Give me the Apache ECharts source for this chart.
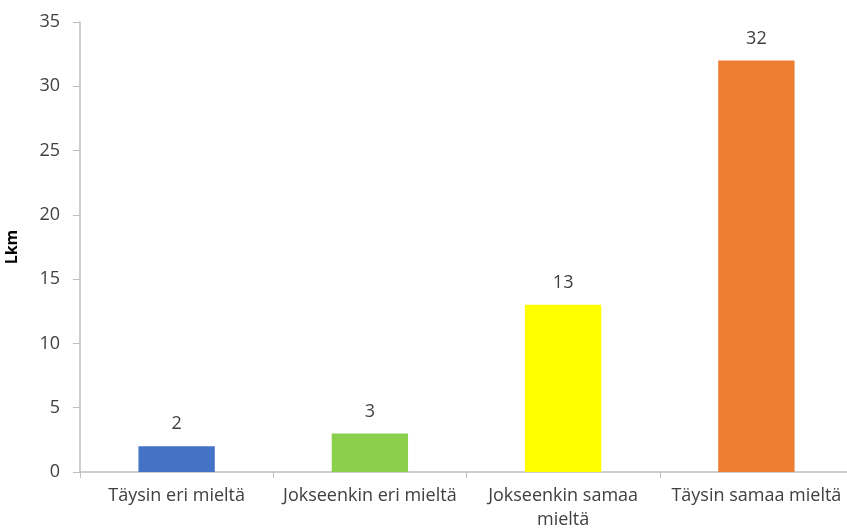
<!DOCTYPE html>
<html>
<head>
<meta charset="utf-8">
<script src="https://cdn.jsdelivr.net/npm/echarts@6/dist/echarts.min.js"></script>
<style>
  html, body { margin: 0; padding: 0; background: #fff; overflow: hidden; }
  /* canvas is a little wider than the window so the category axis runs past the right edge */
  #chart { width: 860px; height: 532px; }
</style>
</head>
<body>
<div id="chart"></div>
<script>
// Survey answers: number of respondents per agreement level
const categories = ['Täysin eri mieltä', 'Jokseenkin eri mieltä', 'Jokseenkin samaa\nmieltä', 'Täysin samaa mieltä'];
const counts = [2, 3, 13, 32];
const barColors = ['#4472C4', '#8CCF4D', '#FFFF00', '#ED7D31'];
const yTicks = { min: 0, max: 35, interval: 5 };

const font = '"Open Sans", sans-serif';
const chart = echarts.init(document.getElementById('chart'), null, { renderer: 'canvas' });

chart.setOption({
  animation: false,
  backgroundColor: '#ffffff',
  grid: { left: 80, right: 7, top: 22, bottom: 60, containLabel: false, outerBoundsMode: 'none' },
  xAxis: {
    type: 'category',
    data: categories,
    axisLine: { show: true, lineStyle: { color: '#BFBFBF', width: 1.5 } },
    axisTick: { show: true, alignWithLabel: false, length: 6, inside: false, lineStyle: { color: '#BFBFBF' } },
    axisLabel: { color: '#404040', fontSize: 18, fontFamily: font, margin: 12, lineHeight: 24, interval: 0 },
    splitLine: { show: false }
  },
  yAxis: {
    type: 'value',
    min: yTicks.min,
    max: yTicks.max,
    interval: yTicks.interval,
    name: 'Lkm',
    nameLocation: 'middle',
    nameGap: 60,
    nameRotate: 90,
    nameTextStyle: { color: '#000', fontSize: 16, fontWeight: 'bold', fontFamily: font },
    axisLine: { show: true, lineStyle: { color: '#BFBFBF', width: 1.5 } },
    axisTick: { show: true, length: 7, lineStyle: { color: '#BFBFBF' } },
    axisLabel: { color: '#404040', fontSize: 18, fontFamily: font, margin: 20 },
    splitLine: { show: false }
  },
  series: [{
    type: 'bar',
    data: counts.map((v, i) => ({ value: v, itemStyle: { color: barColors[i] } })),
    barWidth: '39.5%',
    label: {
      show: true,
      position: 'top',
      distance: 13,
      color: '#404040',
      fontSize: 18,
      fontFamily: font
    }
  }]
});
</script>
</body>
</html>
